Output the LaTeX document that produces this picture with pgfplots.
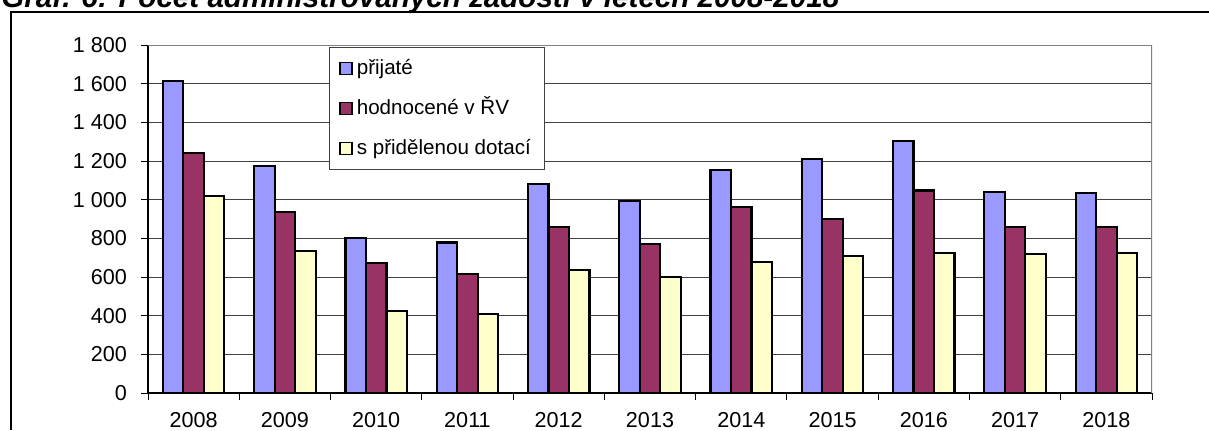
\documentclass[border=0pt]{standalone}
\usepackage{fontspec}
\setmainfont{Liberation Sans}
\usepackage{pgfplots}
\pgfplotsset{compat=1.18}
\definecolor{xlblue}{RGB}{153,153,255}
\definecolor{xlplum}{RGB}{153,51,102}
\definecolor{xlcream}{RGB}{255,255,204}

\begin{document}
\begin{tikzpicture}
\clip (0,0) rectangle (604.5pt,215pt);
\path[use as bounding box] (0,0) rectangle (604.5pt,215pt);
% title, mostly cut off at the top (as in the source)
\node[anchor=base west, inner sep=0pt, font=\fontsize{14.8}{16}\selectfont\bfseries\itshape]
  at (0.5pt,211.2pt) {Graf. 6: Počet administrovaných žádostí v letech 2008-2018};
\draw[line width=0.7pt] (5.5pt,0) -- (5.5pt,209pt) -- (604.5pt,209pt);

\begin{axis}[
    at={(74pt,18.5pt)}, anchor=south west,
    scale only axis, width=502pt, height=174pt,
    ybar=0pt, bar width=10.25pt,
    xmin=-0.5, xmax=10.5, ymin=0, ymax=1800,
    xtick={-0.5,0.5,...,10.5},
    x tick label as interval,
    xticklabels={2008,2009,2010,2011,2012,2013,2014,2015,2016,2017,2018},
    ytick={0,200,...,1800},
    yticklabels={0,200,400,600,800,1 000,1 200,1 400,1 600,1 800},
    tick align=outside, major tick length=3.5pt,
    tick style={black, line width=0.5pt},
    axis x line*=bottom, axis y line*=left,
    axis line style={black, line width=0.6pt},
    ymajorgrids, grid style={black!75, line width=0.5pt},
    tick label style={font=\fontsize{10.8}{13}\selectfont},
    yticklabel style={xshift=-3.5pt},
    xticklabel style={yshift=-2.6pt},
    legend cell align=left,
    legend image code/.code={\draw[#1, line width=0.8pt] (0pt,-3pt) rectangle (6pt,3pt);},
    legend style={at={(rel axis cs:0.180,0.994)}, anchor=north west,
        draw=black!75, line width=0.5pt,
        font=\fontsize{10.3}{12}\selectfont,
        inner xsep=5pt, inner ysep=5.25pt, row sep=9.5pt,
        nodes={text height=8pt, text depth=2.5pt, inner ysep=0pt, inner xsep=2pt}},
    every axis plot/.append style={draw=black, line width=1.1pt},
]
\addplot[fill=xlblue] coordinates {(0,1615) (1,1176) (2,800) (3,778) (4,1081) (5,993) (6,1154) (7,1212) (8,1305) (9,1041) (10,1036)};
\addplot[fill=xlplum] coordinates {(0,1240) (1,935) (2,671) (3,616) (4,860) (5,769) (6,961) (7,900) (8,1047) (9,860) (10,860)};
\addplot[fill=xlcream] coordinates {(0,1021) (1,736) (2,424) (3,409) (4,635) (5,602) (6,676) (7,709) (8,723) (9,717) (10,723)};
\legend{přijaté, hodnocené v ŘV, s přidělenou dotací}
\draw[gray, line width=0.7pt] (rel axis cs:0,1) -- (rel axis cs:1,1) -- (rel axis cs:1,0);
\end{axis}
\end{tikzpicture}
\end{document}
